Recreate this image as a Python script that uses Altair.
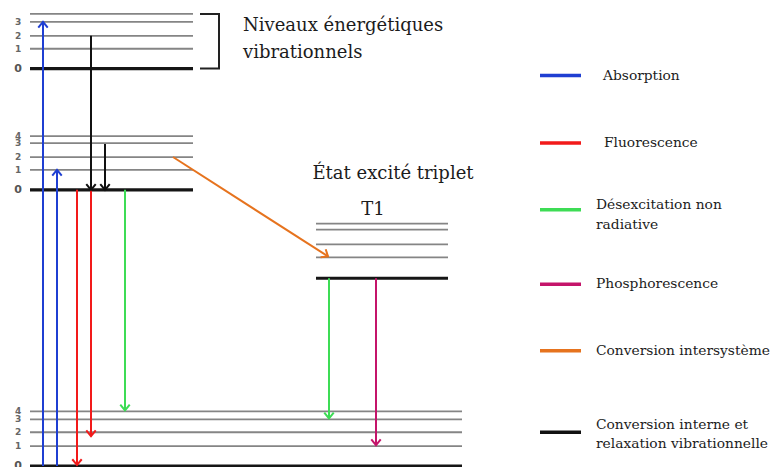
import math
import altair as alt
import pandas as pd

# ---- energy levels (pixel positions) ----
S2_levels = [16, 24, 38, 51, 71]
S1_levels = [139, 146, 160, 173, 193]
S0_levels = [416, 424, 437, 451, 471]
T1_levels = [227, 233, 248, 261, 282]
S2_labels = ["", "3", "2", "1", "0"]
S1_labels = ["4", "3", "2", "1", "0"]
S0_labels = ["4", "3", "2", "1", "0"]
singlet_span = [30, 193]
ground_span = [30, 462]
triplet_span = [316, 448]

# ---- transitions ----
arrow_kind = ["Absorption", "Absorption", "Conversion interne", "Conversion interne",
              "Fluorescence", "Fluorescence", "Désexcitation", "Conversion intersystème",
              "Désexcitation", "Phosphorescence"]
arrow_x1 = [43, 57, 91, 105, 77, 91, 125, 173, 329, 376]
arrow_y1 = [471, 471, 38, 147, 193, 193, 193, 160, 282, 282]
arrow_x2 = [43, 57, 91, 105, 77, 91, 125, 328, 329, 376]
arrow_y2 = [24, 173, 193, 193, 470, 441, 415, 260, 423, 450]

# ---- legend ----
legend_kind = ["Absorption", "Fluorescence", "Désexcitation", "Phosphorescence",
               "Conversion intersystème", "Conversion interne"]
legend_y = [78, 146, 213, 288, 355, 437]
legend_text = ["Absorption", "Fluorescence", "Désexcitation non", "radiative",
               "Phosphorescence", "Conversion intersystème", "Conversion interne et",
               "relaxation vibrationnelle"]
legend_text_x = [603, 604, 596, 596, 596, 596, 596, 596]
legend_text_y = [78, 146, 208, 228, 288, 355, 430, 449]

kinds = ["Absorption", "Fluorescence", "Désexcitation", "Phosphorescence",
         "Conversion intersystème", "Conversion interne"]
kind_colors = ["#1f3fd2", "#f21a1a", "#3ddc55", "#c4146a", "#e6731e", "#111111"]

xs = alt.Scale(domain=[8, 772], range=[0, 764], nice=False, zero=False)
ys = alt.Scale(domain=[10, 472], range=[0, 459], nice=False, zero=False)
cs = alt.Scale(domain=kinds, range=kind_colors)

# build tables
lv_rows = []
for levels, span in [(S2_levels, singlet_span), (S1_levels, singlet_span),
                     (S0_levels, ground_span), (T1_levels, triplet_span)]:
    for i, y in enumerate(levels):
        lv_rows.append({"x1": span[0], "x2": span[1], "y": y,
                        "thick": "yes" if i == len(levels) - 1 else "no"})
lv = pd.DataFrame(lv_rows)

lab_rows = []
for levels, labels in [(S2_levels, S2_labels), (S1_levels, S1_labels), (S0_levels, S0_labels)]:
    for y, t in zip(levels, labels):
        if t:
            lab_rows.append({"x": 18, "y": y, "t": t, "zero": t == "0"})
lab = pd.DataFrame(lab_rows)

ar_rows = []
for k, a, b, c, d in zip(arrow_kind, arrow_x1, arrow_y1, arrow_x2, arrow_y2):
    dx, dy = c - a, d - b
    L = math.hypot(dx, dy)
    ang = math.degrees(math.atan2(-dx / L, dy / L)) % 360
    ar_rows.append({"kind": k, "x1": a, "y1": b, "x2": c, "y2": d, "ang": ang})
ar = pd.DataFrame(ar_rows)

lg = pd.DataFrame({"kind": legend_kind, "y": legend_y, "x1": [540] * 6, "x2": [581] * 6})
lt = pd.DataFrame({"t": legend_text, "x": legend_text_x, "y": legend_text_y})

levels_thin = alt.Chart(lv[lv["thick"] == "no"]).mark_rule(color="#858585", strokeWidth=1.8).encode(
    x=alt.X("x1:Q", scale=xs, axis=None), x2="x2:Q",
    y=alt.Y("y:Q", scale=ys, axis=None),
)
levels_thick = alt.Chart(lv[lv["thick"] == "yes"]).mark_rule(color="#151515", strokeWidth=3.2).encode(
    x=alt.X("x1:Q", scale=xs, axis=None), x2="x2:Q",
    y=alt.Y("y:Q", scale=ys, axis=None),
)

labels_small = alt.Chart(lab[~lab["zero"]]).mark_text(
    font="DejaVu Sans", fontSize=9, fontWeight="bold", color="#666666", align="center", baseline="middle"
).encode(x=alt.X("x:Q", scale=xs), y=alt.Y("y:Q", scale=ys), text="t:N")
labels_zero = alt.Chart(lab[lab["zero"]]).mark_text(
    font="DejaVu Sans", fontSize=11, fontWeight="bold", color="#555555", align="center", baseline="middle"
).encode(x=alt.X("x:Q", scale=xs), y=alt.Y("y:Q", scale=ys), text="t:N")

shafts = alt.Chart(ar).mark_rule(strokeWidth=2).encode(
    x=alt.X("x1:Q", scale=xs), x2="x2:Q",
    y=alt.Y("y1:Q", scale=ys), y2="y2:Q",
    color=alt.Color("kind:N", scale=cs, legend=None),
)
heads = alt.Chart(ar).mark_point(
    shape="M-0.9,-1.1L0,0L0.9,-1.1", filled=False, size=110, strokeWidth=2, opacity=1
).encode(
    x=alt.X("x2:Q", scale=xs), y=alt.Y("y2:Q", scale=ys),
    angle=alt.Angle("ang:Q", scale=None),
    color=alt.Color("kind:N", scale=cs, legend=None),
)

bracket_df = pd.DataFrame({"x": [200, 219, 219, 200], "y": [16, 16, 71, 71], "o": [0, 1, 2, 3]})
bracket = alt.Chart(bracket_df).mark_line(color="#222222", strokeWidth=2).encode(
    x=alt.X("x:Q", scale=xs), y=alt.Y("y:Q", scale=ys), order="o:Q")

titles = pd.DataFrame({
    "t": ["Niveaux énergétiques", "vibrationnels"],
    "x": [243, 243], "y": [28, 55]})
title_layer = alt.Chart(titles).mark_text(
    font="DejaVu Serif", fontSize=18, color="#1c1c1c", align="left", baseline="middle"
).encode(x=alt.X("x:Q", scale=xs), y=alt.Y("y:Q", scale=ys), text="t:N")

trip = pd.DataFrame({"t": ["État excité triplet", "T1"], "x": [393, 373], "y": [177, 213]})
trip_layer = alt.Chart(trip).mark_text(
    font="DejaVu Serif", fontSize=18, color="#1c1c1c", align="center", baseline="middle"
).encode(x=alt.X("x:Q", scale=xs), y=alt.Y("y:Q", scale=ys), text="t:N")

legend_lines = alt.Chart(lg).mark_rule(strokeWidth=3.5).encode(
    x=alt.X("x1:Q", scale=xs), x2="x2:Q", y=alt.Y("y:Q", scale=ys),
    color=alt.Color("kind:N", scale=cs, legend=None),
)
legend_texts = alt.Chart(lt).mark_text(
    font="DejaVu Serif", fontSize=13.8, color="#1c1c1c", align="left", baseline="middle"
).encode(x=alt.X("x:Q", scale=xs), y=alt.Y("y:Q", scale=ys), text="t:N")

chart = alt.layer(
    levels_thin, levels_thick, labels_small, labels_zero, shafts, heads, bracket,
    title_layer, trip_layer, legend_lines, legend_texts
).properties(
    width=764, height=459, padding=0,
    autosize=alt.AutoSizeParams(type="none"),
).configure_view(stroke=None)

chart.save("out.html", embed_options={"renderer": "svg", "actions": False})
